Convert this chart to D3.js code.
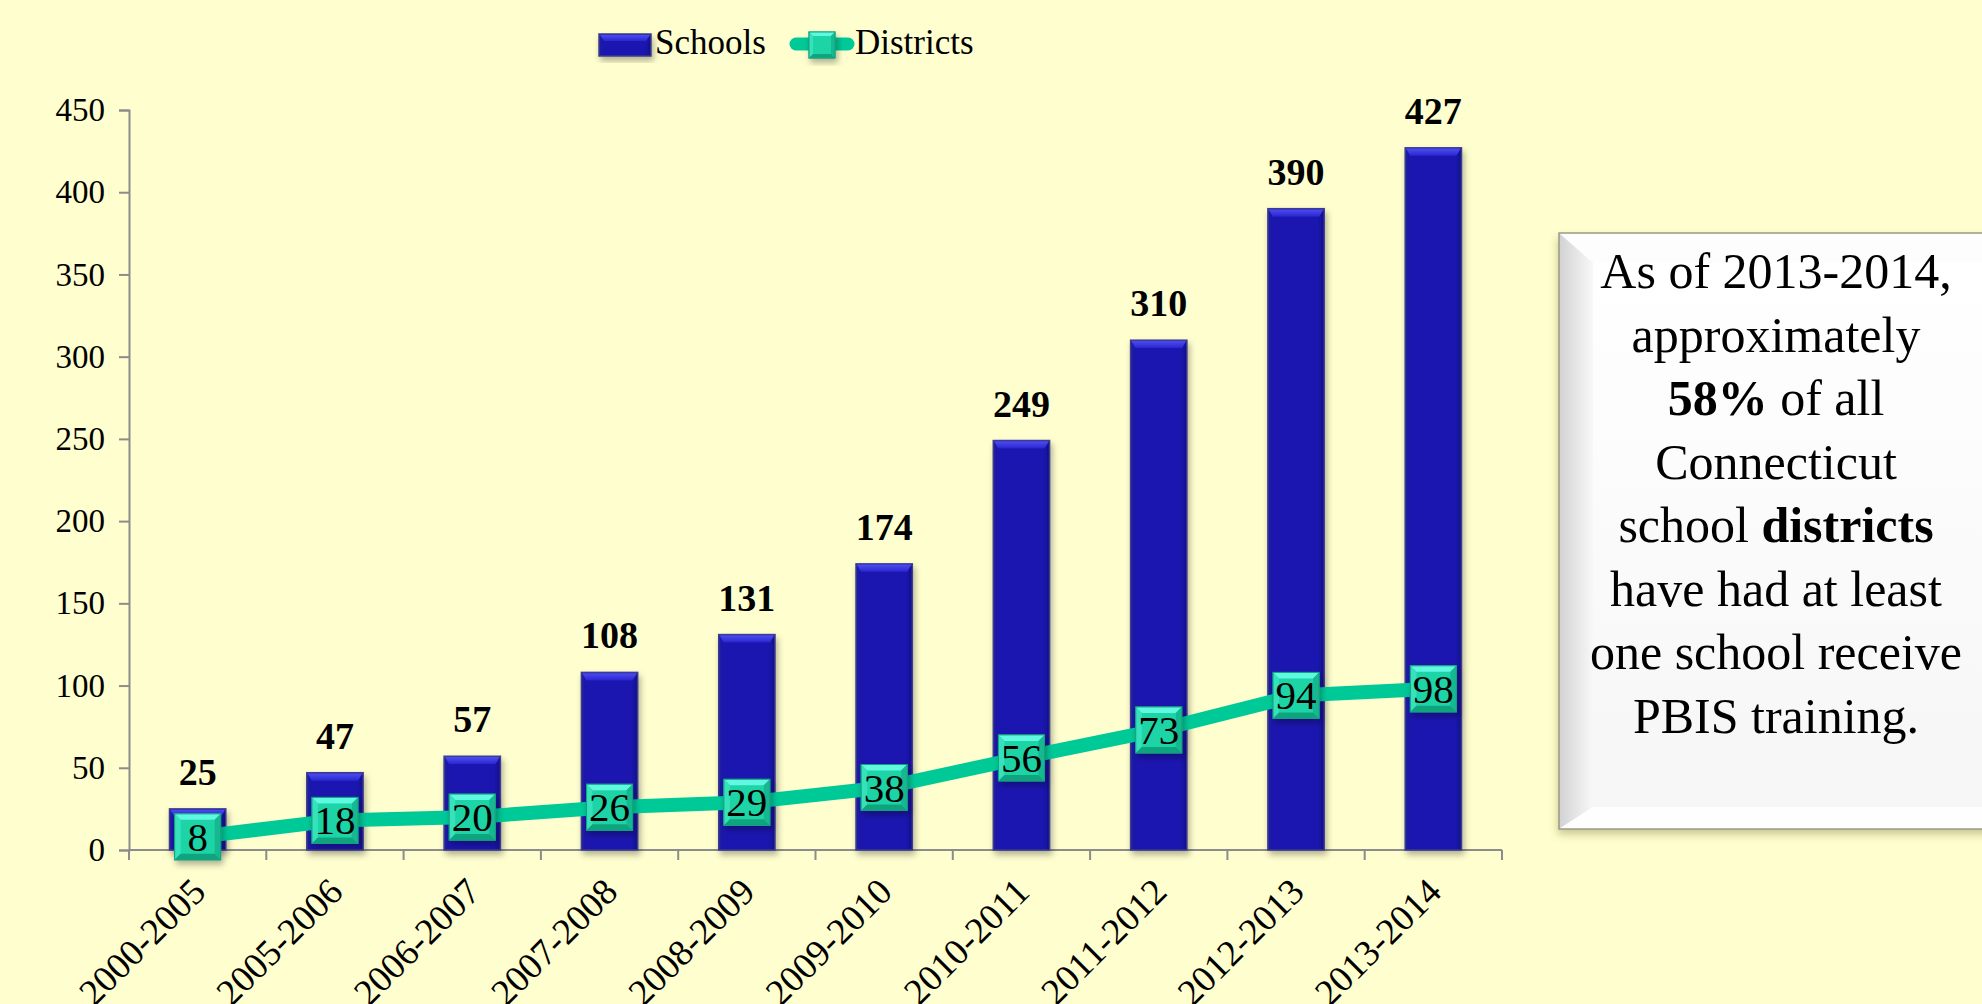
<!DOCTYPE html>
<html><head><meta charset="utf-8">
<script src="https://cdn.jsdelivr.net/npm/d3@7"></script>
<style>
html,body{margin:0;padding:0;background:#FEFECE;}
svg{display:block;}
text{font-family:"Liberation Serif","Times New Roman",serif;fill:#000;}
</style></head>
<body>
<svg id="chart" width="1982" height="1004"></svg>
<script>
const categories = ["2000-2005","2005-2006","2006-2007","2007-2008","2008-2009","2009-2010","2010-2011","2011-2012","2012-2013","2013-2014"];
const schools = [25,47,57,108,131,174,249,310,390,427];
const districts = [8,18,20,26,29,38,56,73,94,98];
const yTicks = [0,50,100,150,200,250,300,350,400,450];
const seriesNames = ["Schools","Districts"];
const noteLines = [
  [{t:"As of 2013-2014,",b:false}],
  [{t:"approximately",b:false}],
  [{t:"58%",b:true},{t:" of all",b:false}],
  [{t:"Connecticut",b:false}],
  [{t:"school ",b:false},{t:"districts",b:true}],
  [{t:"have had at least",b:false}],
  [{t:"one school receive",b:false}],
  [{t:"PBIS training.",b:false}]
];

const svg = d3.select("#chart");
const defs = svg.append("defs");

const f = defs.append("filter").attr("id","shadow").attr("x","-30%").attr("y","-30%").attr("width","160%").attr("height","160%");
f.append("feDropShadow").attr("dx",2).attr("dy",4).attr("stdDeviation",3).attr("flood-color","#000").attr("flood-opacity",0.3);
const f2 = defs.append("filter").attr("id","boxshadow").attr("x","-10%").attr("y","-10%").attr("width","120%").attr("height","120%");
f2.append("feDropShadow").attr("dx",-1).attr("dy",5).attr("stdDeviation",4).attr("flood-color","#605a20").attr("flood-opacity",0.35);

const barGrad = defs.append("linearGradient").attr("id","barGrad").attr("x1","0").attr("x2","1").attr("y1","0").attr("y2","0");
barGrad.append("stop").attr("offset","0").attr("stop-color","#201ea0");
barGrad.append("stop").attr("offset","0.12").attr("stop-color","#1a14b0");
barGrad.append("stop").attr("offset","0.88").attr("stop-color","#1a14b0");
barGrad.append("stop").attr("offset","1").attr("stop-color","#15108c");
const capGrad = defs.append("linearGradient").attr("id","capGrad").attr("x1","0").attr("x2","0").attr("y1","0").attr("y2","1");
capGrad.append("stop").attr("offset","0").attr("stop-color","#4c4cf4");
capGrad.append("stop").attr("offset","1").attr("stop-color","#2a26cc");
const boxGrad = defs.append("linearGradient").attr("id","boxGrad").attr("x1","0").attr("x2","0").attr("y1","0").attr("y2","1");
boxGrad.append("stop").attr("offset","0").attr("stop-color","#ffffff");
boxGrad.append("stop").attr("offset","1").attr("stop-color","#f6f6f6");
const leftBev = defs.append("linearGradient").attr("id","leftBev").attr("x1","0").attr("x2","1").attr("y1","0").attr("y2","0");
leftBev.append("stop").attr("offset","0").attr("stop-color","#d2d2d2");
leftBev.append("stop").attr("offset","1").attr("stop-color","#f8f8f8");

const margin = {left:129, top:110, right:1502, bottom:850};
const x = d3.scaleBand().domain(categories).range([margin.left, margin.right]).paddingInner(0).paddingOuter(0);
const y = d3.scaleLinear().domain([0,450]).range([margin.bottom, margin.top]);
const barW = x.bandwidth()*0.41;

// Axes
const yAxis = svg.append("g").attr("transform",`translate(${margin.left},0)`)
  .call(d3.axisLeft(y).tickValues(yTicks).tickSize(10).tickPadding(14).tickFormat(d3.format("d")));
yAxis.select(".domain").attr("stroke","#8c8c8c").attr("stroke-width",2);
yAxis.selectAll(".tick line").attr("stroke","#8c8c8c").attr("stroke-width",2);
yAxis.selectAll(".tick text").style("font-family","Liberation Serif").style("font-size","33px").attr("fill","#000");

const xAxis = svg.append("g").attr("transform",`translate(0,${margin.bottom})`);
xAxis.append("line").attr("x1",margin.left).attr("x2",margin.right).attr("y1",0).attr("y2",0).attr("stroke","#8c8c8c").attr("stroke-width",2);
const bounds = categories.map(c=>x(c)).concat([x(categories[categories.length-1])+x.bandwidth()]);
xAxis.selectAll("line.tk").data(bounds).enter().append("line").attr("class","tk")
  .attr("x1",d=>d).attr("x2",d=>d).attr("y1",0).attr("y2",10).attr("stroke","#8c8c8c").attr("stroke-width",2);
xAxis.selectAll("text.xl").data(categories).enter().append("text").attr("class","xl")
  .attr("transform",d=>`translate(${x(d)+x.bandwidth()/2+10},${44}) rotate(-45)`)
  .attr("text-anchor","end").style("font-size","37px").text(d=>d);

// Bars
const bars = svg.append("g");
categories.forEach((c,i)=>{
  const bx = x(c)+x.bandwidth()/2-barW/2;
  const by = y(schools[i]);
  const h = y(0)-by;
  const g = bars.append("g").attr("filter","url(#shadow)");
  g.append("rect").attr("x",bx).attr("y",by).attr("width",barW).attr("height",h)
    .attr("fill","url(#barGrad)").attr("stroke","#3c3c8c").attr("stroke-width",1.5);
  const cap = Math.min(8,h/2);
  g.append("path").attr("d",`M${bx+0.75},${by+0.75} L${bx+barW-0.75},${by+0.75} L${bx+barW-5},${by+cap} L${bx+5},${by+cap} Z`)
    .attr("fill","url(#capGrad)");
  svg.append("text").attr("x",x(c)+x.bandwidth()/2).attr("y",by-24).attr("text-anchor","middle")
    .style("font-size","38px").style("font-weight","bold").text(schools[i]);
});

// Line
const cx = c=>x(c)+x.bandwidth()/2;
const line = d3.line().x((d,i)=>cx(categories[i])).y(d=>y(d));
svg.append("path").datum(districts).attr("d",line).attr("fill","none").attr("stroke","#00c998").attr("stroke-width",14).attr("stroke-linejoin","round");

function marker(g, cxp, cyp, s, bev){
  const x0=cxp-s/2, y0=cyp-s/2, x1=cxp+s/2, y1=cyp+s/2;
  const gg = g.append("g").attr("filter","url(#shadow)");
  gg.append("rect").attr("x",x0).attr("y",y0).attr("width",s).attr("height",s).attr("fill","#1ed4a6").attr("stroke","#16a884").attr("stroke-width",1);
  gg.append("path").attr("d",`M${x0},${y0} L${x1},${y0} L${x1-bev},${y0+bev} L${x0+bev},${y0+bev} Z`).attr("fill","#5ef8e0");
  gg.append("path").attr("d",`M${x0},${y0} L${x0+bev},${y0+bev} L${x0+bev},${y1-bev} L${x0},${y1} Z`).attr("fill","#34e2bc");
  gg.append("path").attr("d",`M${x1},${y0} L${x1},${y1} L${x1-bev},${y1-bev} L${x1-bev},${y0+bev} Z`).attr("fill","#14b890");
  gg.append("path").attr("d",`M${x0},${y1} L${x1},${y1} L${x1-bev},${y1-bev} L${x0+bev},${y1-bev} Z`).attr("fill","#10a47e");
  gg.append("rect").attr("x",x0).attr("y",y0).attr("width",s).attr("height",s).attr("fill","none").attr("stroke","#16a07e").attr("stroke-width",1);
}
const mk = svg.append("g");
districts.forEach((d,i)=>{
  marker(mk, cx(categories[i]), y(d), 46, 6);
  svg.append("text").attr("x",cx(categories[i])).attr("y",y(d)+14).attr("text-anchor","middle")
    .style("font-size","41px").text(d);
});

// Legend
const lg = svg.append("g");
const lgb = lg.append("g").attr("filter","url(#shadow)");
lgb.append("rect").attr("x",599).attr("y",34).attr("width",52).attr("height",22).attr("fill","url(#barGrad)").attr("stroke","#3c3c8c").attr("stroke-width",1.5);
lgb.append("path").attr("d","M600,35 L650,35 L646,41 L604,41 Z").attr("fill","url(#capGrad)");
lg.append("text").attr("x",655).attr("y",54).style("font-size","35px").text(seriesNames[0]);
lg.append("line").attr("x1",796).attr("x2",848).attr("y1",44).attr("y2",44).attr("stroke","#00c998").attr("stroke-width",13).attr("stroke-linecap","round");
marker(lg, 822, 45, 26, 4);
lg.append("text").attr("x",855).attr("y",54).style("font-size","35px").text(seriesNames[1]);

// Note box
const bx0=1559, by0=233, bx1=1995, by1=829, bvL=34, bvT=30, bvB=22;
const nb = svg.append("g");
nb.append("rect").attr("x",bx0).attr("y",by0).attr("width",bx1-bx0).attr("height",by1-by0).attr("fill","#f4f4f4").attr("filter","url(#boxshadow)");
nb.append("rect").attr("x",bx0+bvL).attr("y",by0+bvT).attr("width",bx1-bx0-bvL).attr("height",by1-by0-bvT-bvB).attr("fill","url(#boxGrad)");
nb.append("path").attr("d",`M${bx0},${by0} L${bx1},${by0} L${bx1},${by0+bvT} L${bx0+bvL},${by0+bvT} Z`).attr("fill","#fdfdfd");
nb.append("path").attr("d",`M${bx0},${by0} L${bx0+bvL},${by0+bvT} L${bx0+bvL},${by1-bvB} L${bx0},${by1} Z`).attr("fill","url(#leftBev)");
nb.append("path").attr("d",`M${bx0},${by1} L${bx1},${by1} L${bx1},${by1-bvB} L${bx0+bvL},${by1-bvB} Z`).attr("fill","#fefefe");
nb.append("rect").attr("x",bx0).attr("y",by0).attr("width",bx1-bx0).attr("height",by1-by0).attr("fill","none").attr("stroke","#9a9a88").attr("stroke-width",1.5);
noteLines.forEach((ln,i)=>{
  const t = nb.append("text").attr("x",1776).attr("y",288+i*63.5).attr("text-anchor","middle").style("font-size","50px");
  ln.forEach(seg=>t.append("tspan").style("font-weight",seg.b?"bold":"normal").text(seg.t));
});
</script>
</body></html>
